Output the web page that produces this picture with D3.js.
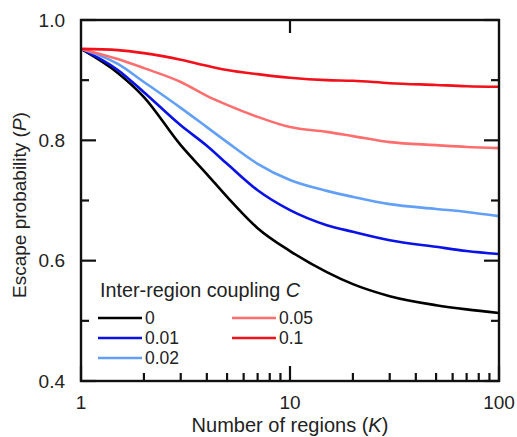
<!DOCTYPE html>
<html><head><meta charset="utf-8">
<script src="https://cdn.jsdelivr.net/npm/d3@7"></script>
<style>
html,body{margin:0;padding:0;background:#fff;}
text{font-family:"Liberation Sans",Arial,sans-serif;fill:#222;}
</style></head>
<body>
<svg id="chart" width="517" height="437"></svg>
<script>
const K = [1, 1.5, 2, 3, 4, 5, 7, 10, 15, 20, 30, 50, 70, 100];
const couplings = ["0", "0.01", "0.02", "0.05", "0.1"];
const colors = ["#000000", "#0a12e6", "#62a0f8", "#ff6e6e", "#f2101a"];
const P_C0    = [0.952, 0.912, 0.872, 0.792, 0.744, 0.706, 0.654, 0.616, 0.581, 0.561, 0.541, 0.526, 0.519, 0.513];
const P_C001  = [0.952, 0.917, 0.880, 0.825, 0.791, 0.761, 0.717, 0.684, 0.659, 0.648, 0.634, 0.623, 0.616, 0.611];
const P_C002  = [0.952, 0.927, 0.897, 0.854, 0.822, 0.797, 0.761, 0.734, 0.716, 0.706, 0.694, 0.686, 0.681, 0.674];
const P_C005  = [0.952, 0.935, 0.920, 0.897, 0.874, 0.859, 0.839, 0.822, 0.814, 0.807, 0.797, 0.792, 0.789, 0.787];
const P_C01   = [0.952, 0.950, 0.945, 0.934, 0.924, 0.917, 0.910, 0.904, 0.900, 0.899, 0.895, 0.892, 0.890, 0.889];
const series = [P_C0, P_C001, P_C002, P_C005, P_C01];
const xTickLabels = [1, 10, 100];
const yTickLabels = [0.4, 0.6, 0.8, 1.0];
const yMinor = [0.5, 0.7, 0.9];
const xMinor = [2,3,4,5,6,7,8,9,20,30,40,50,60,70,80,90];

const svg = d3.select("#chart");
const L = 81, R = 499, T = 20, B = 381;
const x = d3.scaleLog().domain([1, 100]).range([L, R]);
const y = d3.scaleLinear().domain([0.4, 1.0]).range([B, T]);
const MAJ = 15, MIN = 8;

// lines
const line = d3.line().x((d, i) => x(K[i])).y(d => y(d)).curve(d3.curveMonotoneX);
series.forEach((s, i) => {
  svg.append("path").attr("d", line(s)).attr("fill", "none")
    .attr("stroke", colors[i]).attr("stroke-width", 2.6).attr("stroke-linejoin", "round");
});

// frame
svg.append("rect").attr("x", L).attr("y", T).attr("width", R - L).attr("height", B - T)
  .attr("fill", "none").attr("stroke", "#111").attr("stroke-width", 2.4);

const ticks = svg.append("g").attr("stroke", "#111").attr("stroke-width", 2.2);
yTickLabels.concat(yMinor).forEach(v => {
  const len = yTickLabels.includes(v) ? MAJ : MIN;
  ticks.append("line").attr("x1", L).attr("x2", L + len).attr("y1", y(v)).attr("y2", y(v));
  ticks.append("line").attr("x1", R).attr("x2", R - len).attr("y1", y(v)).attr("y2", y(v));
});
xTickLabels.concat(xMinor).forEach(v => {
  const len = xTickLabels.includes(v) ? MAJ : MIN;
  ticks.append("line").attr("x1", x(v)).attr("x2", x(v)).attr("y1", B).attr("y2", B - len);
});
ticks.append("line").attr("x1", x(10)).attr("x2", x(10)).attr("y1", T).attr("y2", T + 13);

// tick labels
yTickLabels.forEach(v => {
  svg.append("text").attr("x", 65).attr("y", y(v)).attr("dy", "0.35em")
    .attr("text-anchor", "end").style("font-size", "19px").text(d3.format(".1f")(v));
});
xTickLabels.forEach(v => {
  svg.append("text").attr("x", x(v)).attr("y", 409)
    .attr("text-anchor", "middle").style("font-size", "19px").text(v);
});

// axis titles
const xt = svg.append("text").attr("x", 290).attr("y", 432).attr("text-anchor", "middle").style("font-size", "20px");
xt.append("tspan").text("Number of regions (");
xt.append("tspan").style("font-style", "italic").text("K");
xt.append("tspan").text(")");
const yt = svg.append("text").attr("transform", "translate(26,205) rotate(-90)").attr("text-anchor", "middle").style("font-size", "19px");
yt.append("tspan").text("Escape probability (");
yt.append("tspan").style("font-style", "italic").text("P");
yt.append("tspan").text(")");

// legend
const lt = svg.append("text").attr("x", 100).attr("y", 297).style("font-size", "19.8px");
lt.append("tspan").text("Inter-region coupling ");
lt.append("tspan").style("font-style", "italic").text("C");
const legPos = [[98, 318], [98, 338], [98, 358], [232, 318], [232, 338]];
couplings.forEach((c, i) => {
  const [lx, ly] = legPos[i];
  svg.append("line").attr("x1", lx).attr("x2", lx + 44).attr("y1", ly).attr("y2", ly)
    .attr("stroke", colors[i]).attr("stroke-width", 2.6);
  svg.append("text").attr("x", lx + 47).attr("y", ly).attr("dy", "0.35em")
    .style("font-size", "17.5px").text(c);
});
</script>
</body></html>
